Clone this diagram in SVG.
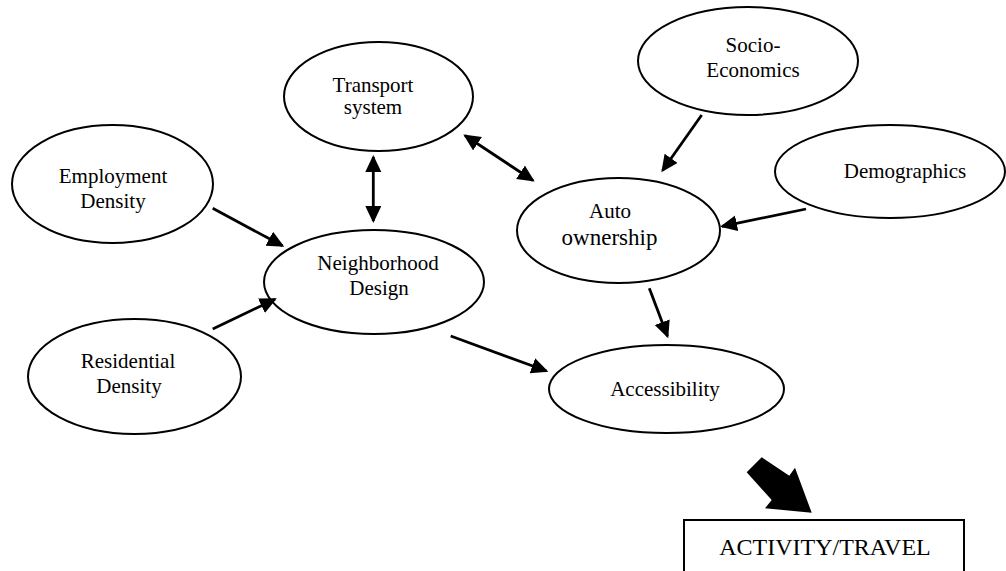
<svg xmlns="http://www.w3.org/2000/svg" width="1006" height="571" viewBox="0 0 1006 571">
<style>
  .node ellipse, .node rect { fill: #fff; stroke: #000; stroke-width: 2; }
  text { font-family: "Liberation Serif", "Times New Roman", serif; font-size: 21px; fill: #000; text-anchor: middle; }
  .conn line { stroke: #000; stroke-width: 2.8; }
  .end { marker-end: url(#ah); }
  .both { marker-start: url(#ah); marker-end: url(#ah); }
</style>
<defs>
  <marker id="ah" markerUnits="userSpaceOnUse" markerWidth="18" markerHeight="18" refX="15" refY="8" orient="auto-start-reverse" viewBox="0 0 18 18">
    <path d="M0,0 L17,8 L0,16 z" fill="#000"/>
  </marker>
</defs>
<rect width="1006" height="571" fill="#fff"/>

<g id="transport" class="node">
  <ellipse cx="378.5" cy="96.5" rx="94.5" ry="54.5"/>
  <text x="373" y="92">Transport</text>
  <text x="373" y="114">system</text>
</g>
<g id="socio" class="node">
  <ellipse cx="748" cy="61" rx="110" ry="54"/>
  <text x="753" y="52">Socio-</text>
  <text x="753" y="77">Economics</text>
</g>
<g id="demographics" class="node">
  <ellipse cx="890" cy="171.5" rx="115" ry="46.5"/>
  <text x="905" y="178">Demographics</text>
</g>
<g id="auto" class="node">
  <ellipse cx="618.5" cy="230.5" rx="101.5" ry="52.5"/>
  <text x="610" y="218">Auto</text>
  <text x="609.5" y="245" style="font-size:23px">ownership</text>
</g>
<g id="employment" class="node">
  <ellipse cx="112.5" cy="184" rx="100.5" ry="59"/>
  <text x="113" y="183">Employment</text>
  <text x="113" y="208">Density</text>
</g>
<g id="residential" class="node">
  <ellipse cx="134.5" cy="376.5" rx="106.5" ry="57.5"/>
  <text x="128" y="368">Residential</text>
  <text x="129" y="393">Density</text>
</g>
<g id="neighborhood" class="node">
  <ellipse cx="374" cy="282" rx="110" ry="52"/>
  <text x="378" y="270">Neighborhood</text>
  <text x="379" y="295">Design</text>
</g>
<g id="accessibility" class="node">
  <ellipse cx="666.5" cy="389" rx="117.5" ry="44"/>
  <text x="665" y="396">Accessibility</text>
</g>
<g id="activity" class="node">
  <rect x="684" y="520" width="280" height="60"/>
  <text x="825" y="555" style="font-size:24px">ACTIVITY/TRAVEL</text>
</g>

<g id="connectors" class="conn">
  <line class="both" x1="373.3" y1="157" x2="373.3" y2="221"/>
  <line class="both" x1="465" y1="135.5" x2="533" y2="180.5"/>
  <line class="end" x1="701.7" y1="115" x2="662.5" y2="170.5"/>
  <line class="end" x1="806" y1="209" x2="722" y2="226.3"/>
  <line class="end" x1="212.7" y1="208.3" x2="282.5" y2="245.8"/>
  <line class="end" x1="212.7" y1="329" x2="275" y2="299.2"/>
  <line class="end" x1="649.3" y1="288.3" x2="667.5" y2="336.3"/>
  <line class="end" x1="450.7" y1="336" x2="546.5" y2="371"/>
  <polygon points="746.7,472.3 761.7,457.3 789.3,475.7 795,467.7 811.7,512.7 765,508.3 771.7,500" fill="#000"/>
</g>
</svg>
